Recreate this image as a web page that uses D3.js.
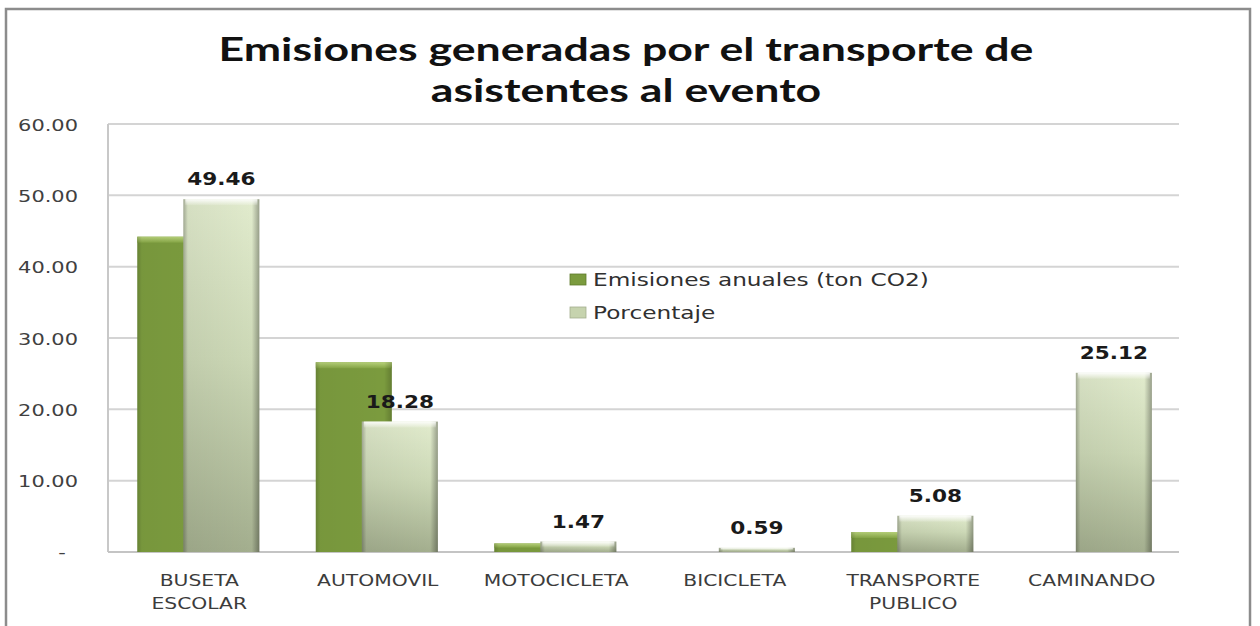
<!DOCTYPE html>
<html>
<head>
<meta charset="utf-8">
<script src="https://cdn.jsdelivr.net/npm/d3@7/dist/d3.min.js"></script>
<style>
html,body{margin:0;padding:0;background:#fff;}
svg{display:block;}
</style>
</head>
<body>
<svg id="chart" width="1260" height="626"></svg>
<script>
// ---- data ----
const categories = [["BUSETA","ESCOLAR"],["AUTOMOVIL"],["MOTOCICLETA"],["BICICLETA"],["TRANSPORTE","PUBLICO"],["CAMINANDO"]];
const emisiones = [44.2, 26.6, 1.2, 0, 2.8, 0];
const porcentaje = [49.46, 18.28, 1.47, 0.59, 5.08, 25.12];
const porcentajeLabels = ["49.46","18.28","1.47","0.59","5.08","25.12"];
const yTicks = [0, 10, 20, 30, 40, 50, 60];
const yTickLabels = ["-", "10.00", "20.00", "30.00", "40.00", "50.00", "60.00"];
const seriesNames = ["Emisiones anuales (ton CO2)", "Porcentaje"];
const titleLines = ["Emisiones generadas por el transporte de", "asistentes al evento"];

const svg = d3.select("#chart");
const W = 1260, H = 626;
const plot = {left: 108, right: 1179, top: 124, bottom: 552};

// frame
svg.append("rect").attr("x", 6).attr("y", 9).attr("width", 1244).attr("height", 640)
  .attr("fill", "#fff").attr("stroke", "#8c8c8c").attr("stroke-width", 2.5);

const defs = svg.append("defs");
const lg = defs.append("linearGradient").attr("id", "lightV").attr("x1", 0).attr("y1", 0).attr("x2", 0).attr("y2", 1);
lg.append("stop").attr("offset", "0%").attr("stop-color", "#e1ebcd");
lg.append("stop").attr("offset", "45%").attr("stop-color", "#ccd8b6");
lg.append("stop").attr("offset", "100%").attr("stop-color", "#a3ae8e");
const sideG = defs.append("linearGradient").attr("id", "sideH").attr("x1", 0).attr("y1", 0).attr("x2", 1).attr("y2", 0);
sideG.append("stop").attr("offset", "0%").attr("stop-color", "#000").attr("stop-opacity", 0.28);
sideG.append("stop").attr("offset", "6%").attr("stop-color", "#000").attr("stop-opacity", 0.05);
sideG.append("stop").attr("offset", "90%").attr("stop-color", "#000").attr("stop-opacity", 0.0);
sideG.append("stop").attr("offset", "100%").attr("stop-color", "#000").attr("stop-opacity", 0.32);
const topG = defs.append("linearGradient").attr("id", "topBevel").attr("x1", 0).attr("y1", 0).attr("x2", 0).attr("y2", 1);
topG.append("stop").attr("offset", "0%").attr("stop-color", "#fff").attr("stop-opacity", 0.9);
topG.append("stop").attr("offset", "100%").attr("stop-color", "#fff").attr("stop-opacity", 0.1);
const darkTop = defs.append("linearGradient").attr("id", "darkTop").attr("x1", 0).attr("y1", 0).attr("x2", 0).attr("y2", 1);
darkTop.append("stop").attr("offset", "0%").attr("stop-color", "#b7d17a");
darkTop.append("stop").attr("offset", "100%").attr("stop-color", "#86a646");

// scales
const x = d3.scaleBand().domain(d3.range(categories.length)).range([plot.left, plot.right]).padding(0);
const y = d3.scaleLinear().domain([0, 60]).range([plot.bottom, plot.top]);
const bw = x.bandwidth();
const barW = bw * 0.426;
const darkOff = -bw * 0.336;
const lightOff = -bw * 0.078;

// gridlines
svg.append("g").selectAll("line").data(yTicks.filter(d => d > 0)).join("line")
  .attr("x1", plot.left).attr("x2", plot.right)
  .attr("y1", d => y(d)).attr("y2", d => y(d))
  .attr("stroke", "#d4d4d4").attr("stroke-width", 2);
// axes lines
svg.append("line").attr("x1", plot.left).attr("x2", plot.left).attr("y1", plot.top).attr("y2", plot.bottom)
  .attr("stroke", "#c8c8c8").attr("stroke-width", 2);
svg.append("line").attr("x1", plot.left).attr("x2", plot.right).attr("y1", plot.bottom).attr("y2", plot.bottom)
  .attr("stroke", "#c4c4c4").attr("stroke-width", 2);

// helper for stretched text
function sText(g, tx, ty, str, opt) {
  const t = g.append("text")
    .attr("transform", `translate(${tx},${ty}) scale(${opt.sx},1)`)
    .attr("text-anchor", opt.anchor || "middle")
    .attr("font-family", opt.family || "'DejaVu Sans', Verdana, sans-serif")
    .attr("font-size", opt.size)
    .attr("font-weight", opt.weight || "normal")
    .attr("fill", opt.fill || "#404040")
    .text(str);
  return t;
}

// y tick labels
const yg = svg.append("g");
yTicks.forEach((v, i) => {
  if (v === 0) sText(yg, 62, y(v) + 6, yTickLabels[i], {sx: 1.35, size: 15.5, anchor: "middle"});
  else sText(yg, 78, y(v) + 6.5, yTickLabels[i], {sx: 1.35, size: 15.5, anchor: "end"});
});

// category labels
const cg = svg.append("g");
categories.forEach((lines, i) => {
  const cx = x(i) + bw / 2 + 2;
  lines.forEach((ln, j) => sText(cg, cx, 586 + j * 23, ln, {sx: 1.23, size: 16.5, fill: "#3c3c3c"}));
});

// dark bars (Emisiones)
const dark = svg.append("g");
const dd = emisiones.map((v, i) => ({v, i})).filter(d => d.v > 0);
dark.selectAll("rect.main").data(dd).join("rect").attr("class", "main")
  .attr("x", d => x(d.i) + bw / 2 + darkOff).attr("width", barW)
  .attr("y", d => y(d.v)).attr("height", d => y(0) - y(d.v))
  .attr("fill", "#7b9b3e");
dark.selectAll("rect.top").data(dd).join("rect").attr("class", "top")
  .attr("x", d => x(d.i) + bw / 2 + darkOff).attr("width", barW)
  .attr("y", d => y(d.v)).attr("height", d => Math.min(6, (y(0) - y(d.v)) / 2))
  .attr("fill", "url(#darkTop)");
dark.selectAll("rect.side").data(dd).join("rect").attr("class", "side")
  .attr("x", d => x(d.i) + bw / 2 + darkOff).attr("width", barW)
  .attr("y", d => y(d.v)).attr("height", d => y(0) - y(d.v))
  .attr("fill", "url(#sideH)").attr("opacity", 0.6);

// light bars (Porcentaje)
const light = svg.append("g");
const ld = porcentaje.map((v, i) => ({v, i}));
light.selectAll("rect.main").data(ld).join("rect").attr("class", "main")
  .attr("x", d => x(d.i) + bw / 2 + lightOff).attr("width", barW)
  .attr("y", d => y(d.v)).attr("height", d => y(0) - y(d.v))
  .attr("fill", "url(#lightV)");
light.selectAll("rect.side").data(ld).join("rect").attr("class", "side")
  .attr("x", d => x(d.i) + bw / 2 + lightOff).attr("width", barW)
  .attr("y", d => y(d.v)).attr("height", d => y(0) - y(d.v))
  .attr("fill", "url(#sideH)");
light.selectAll("rect.top").data(ld).join("rect").attr("class", "top")
  .attr("x", d => x(d.i) + bw / 2 + lightOff + 2).attr("width", barW - 4)
  .attr("y", d => y(d.v)).attr("height", d => Math.min(6, (y(0) - y(d.v)) / 2))
  .attr("fill", "url(#topBevel)");

// value labels
const vg = svg.append("g");
ld.forEach(d => {
  sText(vg, x(d.i) + bw / 2 + lightOff + barW / 2, y(d.v) - 14, porcentajeLabels[d.i],
    {sx: 1.2, size: 18, weight: "bold", fill: "#1a1a1a"});
});

// legend
const leg = svg.append("g");
const legColors = ["#7b9b3e", "#c6d3ae"];
seriesNames.forEach((s, i) => {
  const by = 286 + i * 33;
  leg.append("rect").attr("x", 570).attr("y", by - 12).attr("width", 16).attr("height", 11)
    .attr("fill", legColors[i]).attr("stroke", i === 0 ? "#5f7a2c" : "#a3ae8e").attr("stroke-width", 0.8);
  sText(leg, 593, by, s, {sx: 1.29, size: 18, anchor: "start", fill: "#303030"});
});

// title
const tg = svg.append("g");
const t1 = sText(tg, 626, 61, titleLines[0], {sx: 1, size: 32, weight: "bold", family: "Lato, 'Open Sans', sans-serif", fill: "#111"});
const nat = t1.node().getComputedTextLength();
const tsx = 815 / nat;
t1.attr("transform", `translate(626,61) scale(${tsx},1)`);
sText(tg, 626, 102, titleLines[1], {sx: tsx, size: 32, weight: "bold", family: "Lato, 'Open Sans', sans-serif", fill: "#111"});
</script>
</body>
</html>
